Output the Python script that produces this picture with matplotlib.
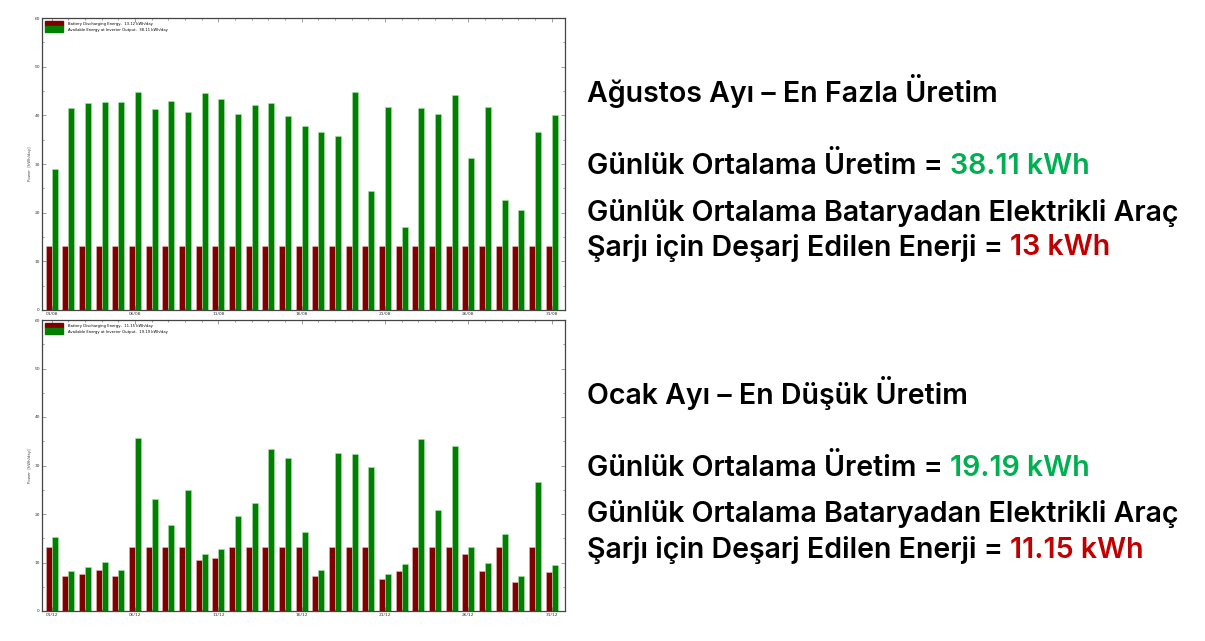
import numpy as np
import matplotlib
matplotlib.use("Agg")
import matplotlib.pyplot as plt
from matplotlib.ticker import MultipleLocator, FixedLocator
from matplotlib.patches import Patch

# August (highest production)
aug_days = np.arange(1, 32)
aug_battery = [13.12] * 31
aug_inverter = [29.0, 41.5, 42.5, 42.8, 42.8, 44.8, 41.3, 43.0, 40.7, 44.6,
                43.4, 40.3, 42.2, 42.6, 39.9, 37.9, 36.6, 35.7, 44.7, 24.4,
                41.7, 17.0, 41.6, 40.3, 44.2, 31.2, 41.7, 22.7, 20.5, 36.6, 40.1]
aug_ticks = ["01/08", "06/08", "11/08", "16/08", "21/08", "26/08", "31/08"]

# January (lowest production)
jan_days = np.arange(1, 32)
jan_battery = [13.1, 7.2, 7.7, 8.5, 7.2, 13.1, 13.1, 13.1, 13.1, 10.6,
               10.95, 13.1, 13.1, 13.1, 13.1, 13.1, 7.3, 13.1, 13.1, 13.1,
               6.6, 8.3, 13.1, 13.1, 13.1, 11.7, 8.2, 13.1, 6.0, 13.1, 8.1]
jan_inverter = [15.2, 8.3, 9.1, 10.1, 8.4, 35.7, 23.1, 17.7, 24.9, 11.8,
                12.7, 19.5, 22.3, 33.4, 31.5, 16.3, 8.5, 32.6, 32.4, 29.7,
                7.6, 9.6, 35.5, 20.9, 34.0, 13.2, 9.8, 15.8, 7.2, 26.7, 9.4]
jan_ticks = ["01/12", "06/12", "11/12", "16/12", "21/12", "26/12", "31/12"]

legend_batt = ["Battery Discharging Energy,  13.12 kWh/day",
               "Battery Discharging Energy,  11.15 kWh/day"]
legend_inv = ["Available Energy at Inverter Output,  38.11 kWh/day",
              "Available Energy at Inverter Output,  19.19 kWh/day"]

RED = "#7f0000"
GREEN = "#008000"

W, H = 1205, 641
fig = plt.figure(figsize=(W / 100, H / 100), dpi=100)


def bar_chart(rect, days, batt, inv, ticks, lab_b, lab_i):
    ax = fig.add_axes(rect)
    w = 0.36
    ax.bar(days - w / 2, batt, width=w, color=RED, edgecolor="#e8b0b0", linewidth=0.4)
    ax.bar(days + w / 2, inv, width=w, color=GREEN, edgecolor="#a8e0a8", linewidth=0.4)
    ax.set_xlim(0.42, 31.8)
    ax.set_ylim(0, 60)
    ax.xaxis.set_major_locator(FixedLocator([1, 6, 11, 16, 21, 26, 31]))
    ax.set_xticklabels(ticks)
    ax.xaxis.set_minor_locator(MultipleLocator(1))
    ax.yaxis.set_major_locator(MultipleLocator(10))
    ax.yaxis.set_minor_locator(MultipleLocator(5))
    ax.tick_params(which="both", direction="in", top=True, right=True,
                   labelsize=3.2, colors="#555555", labelcolor="#333333",
                   width=0.4, pad=1.5)
    ax.tick_params(which="major", length=3)
    ax.tick_params(which="minor", length=1.5)
    for s in ax.spines.values():
        s.set_linewidth(0.9)
        s.set_color("#444444")
    ax.set_ylabel("Power  [kWh/day]", fontsize=2.8, color="#444444", labelpad=2)
    handles = [Patch(facecolor=RED, edgecolor=RED), Patch(facecolor=GREEN, edgecolor=GREEN)]
    ax.legend(handles, [lab_b, lab_i], loc="upper left", fontsize=2.7,
              frameon=False, handlelength=5.0, handleheight=2.0,
              labelspacing=0.0, handletextpad=1.3, borderaxespad=0.5,
              borderpad=0.2)
    return ax


bar_chart([42 / W, 1 - 310 / H, 523 / W, 292 / H], aug_days, aug_battery,
          aug_inverter, aug_ticks, legend_batt[0], legend_inv[0])
bar_chart([42 / W, 1 - 611 / H, 523 / W, 291 / H], jan_days, jan_battery,
          jan_inverter, jan_ticks, legend_batt[1], legend_inv[1])

# right-hand text block
FONT = ["Inter", "DejaVu Sans"]
WEIGHT = "semibold"
fig.canvas.draw()
renderer = fig.canvas.get_renderer()

probe = fig.text(0, 0, "Günlük Ortalama Bataryadan Elektrikli Araç", fontsize=20,
                 family=FONT, weight=WEIGHT)
pw = probe.get_window_extent(renderer).width
probe.remove()
fs = 20 * 593 / pw

lines = [
    (88, [("Ağustos Ayı – En Fazla Üretim", "black")]),
    (163, [("Günlük Ortalama Üretim = ", "black"), ("38.11 kWh", "#00b050")]),
    (210, [("Günlük Ortalama Bataryadan Elektrikli Araç", "black")]),
    (245, [("Şarjı için Deşarj Edilen Enerji = ", "black"), ("13 kWh", "#c00000")]),
    (390, [("Ocak Ayı – En Düşük Üretim", "black")]),
    (465, [("Günlük Ortalama Üretim = ", "black"), ("19.19 kWh", "#00b050")]),
    (511, [("Günlük Ortalama Bataryadan Elektrikli Araç", "black")]),
    (547, [("Şarjı için Deşarj Edilen Enerji = ", "black"), ("11.15 kWh", "#c00000")]),
]

for ypx, parts in lines:
    x = 587
    for txt, col in parts:
        t = fig.text(x / W, 1 - ypx / H, txt, fontsize=fs, family=FONT,
                     weight=WEIGHT, color=col, va="center_baseline", ha="left")
        ext = t.get_window_extent(renderer)
        x = ext.x1

fig.savefig("out.png", dpi=100)
